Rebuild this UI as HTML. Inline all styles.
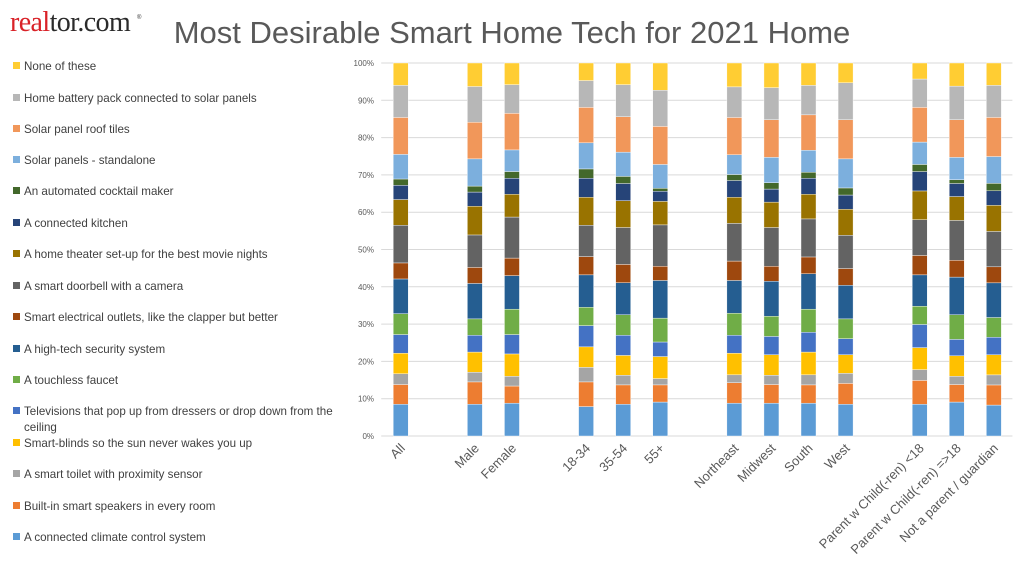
<!DOCTYPE html>
<html><head><meta charset="utf-8"><style>
body{margin:0;width:1024px;height:576px;background:#fff;overflow:hidden;font-family:"Liberation Sans",sans-serif;}
svg{position:absolute;left:0;top:0}
</style></head><body>
<svg id="chart" width="1024" height="576">
<text x="10" y="31" font-family="Liberation Serif,serif" font-size="28" letter-spacing="-0.6"><tspan fill="#d92228">real</tspan><tspan fill="#2b2b2b">tor.com</tspan></text>
<text x="137" y="19" font-size="6" fill="#333">®</text>
<text x="512" y="43" text-anchor="middle" font-size="31" fill="#595959">Most Desirable Smart Home Tech for 2021 Home</text>
<g id="grid"></g><g id="bars"></g><g id="xlabels"></g><g id="legend"></g>
</svg>
<script>
const categories=["All","","Male","Female","","18-34","35-54","55+","","Northeast","Midwest","South","West","","Parent w Child(-ren) <18","Parent w Child(-ren) =>18","Not a parent / guardian"];
const seriesNames=["A connected climate control system","Built-in smart speakers in every room","A smart toilet with proximity sensor","Smart-blinds so the sun never wakes you up","Televisions that pop up from dressers or drop down from the ceiling","A touchless faucet","A high-tech security system","Smart electrical outlets, like the clapper but better","A smart doorbell with a camera","A home theater set-up for the best movie nights","A connected kitchen","An automated cocktail maker","Solar panels - standalone","Solar panel roof tiles","Home battery pack connected to solar panels","None of these"];
const colors=["#5B9BD5","#ED7D31","#A5A5A5","#FFC000","#4472C4","#70AD47","#255E91","#9E480E","#636363","#997300","#264478","#43682B","#7CAFDD","#F1975A","#B7B7B7","#FFCD33"];
const vAll=[8.5,5.3,2.9,5.5,5.0,5.6,9.3,4.3,10.1,6.9,3.8,1.7,6.6,9.9,8.6,6.0];
const vMale=[8.5,6.0,2.6,5.4,4.5,4.4,9.5,4.3,8.7,7.7,3.8,1.6,7.3,9.8,9.6,6.3];
const vFemale=[8.8,4.6,2.6,6.0,5.2,6.8,9.0,4.7,11.0,6.1,4.3,1.8,5.8,9.8,7.7,5.8];
const v1834=[7.9,6.6,3.9,5.5,5.7,4.9,8.7,4.9,8.4,7.5,5.1,2.5,7.0,9.5,7.2,4.7];
const v3554=[8.5,5.2,2.6,5.3,5.4,5.5,8.6,4.9,9.9,7.2,4.6,1.9,6.5,9.5,8.6,5.8];
const v55=[9.1,4.6,1.7,5.9,3.9,6.4,10.1,3.8,11.1,6.3,2.7,0.8,6.4,10.2,9.7,7.3];
const vNE=[8.8,5.5,2.1,5.8,4.8,5.9,8.8,5.2,10.1,7.0,4.5,1.6,5.3,10.0,8.2,6.4];
const vMW=[8.8,5.0,2.5,5.5,4.9,5.4,9.4,4.0,10.4,6.8,3.5,1.7,6.8,10.1,8.6,6.6];
const vS=[8.8,4.9,2.7,6.1,5.3,6.2,9.5,4.5,10.2,6.6,4.3,1.6,5.9,9.5,7.9,6.0];
const vW=[8.5,5.6,2.7,5.0,4.3,5.3,9.0,4.5,8.9,7.0,3.8,1.9,7.8,10.5,9.9,5.3];
const vP18=[8.5,6.4,2.9,5.9,6.2,4.9,8.4,5.2,9.6,7.7,5.2,1.9,6.0,9.3,7.6,4.3];
const vP18p=[9.1,4.7,2.2,5.5,4.4,6.6,10.1,4.5,10.7,6.4,3.5,1.0,6.0,10.1,9.0,6.2];
const vNP=[8.3,5.4,2.7,5.4,4.7,5.3,9.3,4.3,9.5,7.0,3.9,2.0,7.2,10.5,8.6,6.0];
const barValues=[vAll,null,vMale,vFemale,null,v1834,v3554,v55,null,vNE,vMW,vS,vW,null,vP18,vP18p,vNP];
const yTicks=[0,10,20,30,40,50,60,70,80,90,100];

const NS="http://www.w3.org/2000/svg";
const X0=382.2,X1=1012.4,Y0=436,Y1=63;
const slot=(X1-X0)/categories.length;
const xc=i=>X0+slot*(i+0.5);
const y=v=>Y0-(Y0-Y1)*v/100;
function mk(tag,parent,attrs){const e=document.createElementNS(NS,tag);for(const k in attrs)e.setAttribute(k,attrs[k]);document.getElementById(parent).appendChild(e);return e;}
yTicks.forEach(t=>{
 const l=mk('line','grid',{x1:X0-1,x2:X1,y1:y(t),y2:y(t),stroke:'#d9d9d9','stroke-width':1});
 
 
 const tx=mk('text','grid',{x:374,y:y(t)+3,'text-anchor':'end','font-size':8,fill:'#595959'});
 tx.textContent=t+'%';
 
 
});
barValues.forEach((vals,i)=>{
 if(!vals)return;
 let cum=0;const sum=vals.reduce((a,b)=>a+b,0);
 vals.forEach((v,s)=>{
  const p0=cum/sum*100;cum+=v;const p1=cum/sum*100;
  const r=mk('rect','bars',{x:xc(i)-7.5,width:15,y:y(p1),height:y(p0)-y(p1),fill:colors[s],stroke:'#fff','stroke-width':0.4});
  
  
 });
});
categories.forEach((c,i)=>{
 if(!c)return;
 const t=mk('text','xlabels',{x:xc(i)+5,y:449,'text-anchor':'end','font-size':13,fill:'#595959',transform:`rotate(-45 ${xc(i)+5} 449)`});
 t.textContent=c;
 
 
});
const legY=[66,98,129,160,191,223,254,286,317,349,380,411,443,474,506,537];
for(let k=0;k<16;k++){
 const s=15-k;
 const r=mk('rect','legend',{x:13,y:legY[k]-4,width:7,height:7,fill:colors[s]});
 
 
 const t=mk('text','legend',{x:24,y:legY[k]+4,'font-size':11.6,fill:'#404040'});
 
 
 if(s===4){
  t.textContent="Televisions that pop up from dressers or drop down from the";
  const t2=mk('text','legend',{x:24,y:legY[k]+20,'font-size':11.6,fill:'#404040'});
  t2.textContent="ceiling";
  
  
 } else t.textContent=seriesNames[s];
}
</script>
</body></html>
